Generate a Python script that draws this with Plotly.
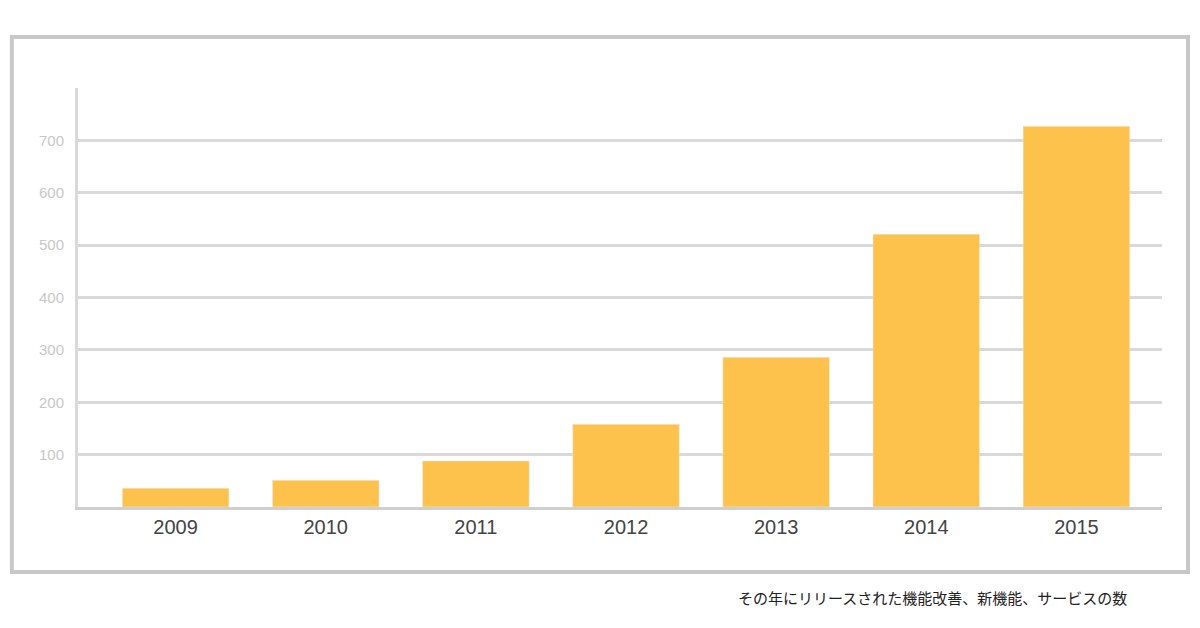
import plotly.graph_objects as go

years = ["2009", "2010", "2011", "2012", "2013", "2014", "2015"]
bar_heights = [36, 51, 88, 158, 286, 521, 727]
labels = ["24", "48", "82", "159", "280", "516", "722"]
yticks = [100, 200, 300, 400, 500, 600, 700]
footnote = "その年にリリースされた機能改善、新機能、サービスの数"

fig = go.Figure(go.Bar(x=years, y=bar_heights, marker_color="#FDC24C", width=0.71, hoverinfo="skip"))
for yr, h, t in zip(years, bar_heights, labels):
    fig.add_annotation(x=yr, y=h, xref="x", yref="y", text=t, showarrow=False, yshift=44,
                       font=dict(size=42, color="#F7973A", family="Liberation Sans, Arial"),
                       bgcolor="white", borderpad=2)
fig.add_shape(type="rect", xref="paper", yref="paper", x0=-0.061, x1=1.024, y0=-0.155, y1=1.122,
              line=dict(color="#c8c8c8", width=4), layer="below")
fig.add_annotation(xref="paper", yref="paper", x=0.97, y=-0.215, xanchor="right", yanchor="middle",
                   text=footnote, showarrow=False,
                   font=dict(size=15, color="#222", family="Noto Sans CJK JP"))
fig.update_layout(
    width=1184, height=612, margin=dict(l=70, r=30, t=80, b=113),
    plot_bgcolor="white", paper_bgcolor="white", showlegend=False,
    font=dict(family="Liberation Sans, Arial"),
    xaxis=dict(type="category", range=[-0.65, 6.57], showgrid=False, showline=True, linecolor="#cfcfcf", linewidth=3,
               tickfont=dict(size=20, color="#444"), ticks="", fixedrange=True),
    yaxis=dict(range=[0, 800], tickvals=yticks, showgrid=True, gridcolor="#d9d9d9", gridwidth=3,
               showline=True, linecolor="#d9d9d9", linewidth=3, zeroline=False,
               tickfont=dict(size=15, color="#c8c8c8"), ticks="", ticklabelstandoff=8),
)
fig.write_html("out.html")
